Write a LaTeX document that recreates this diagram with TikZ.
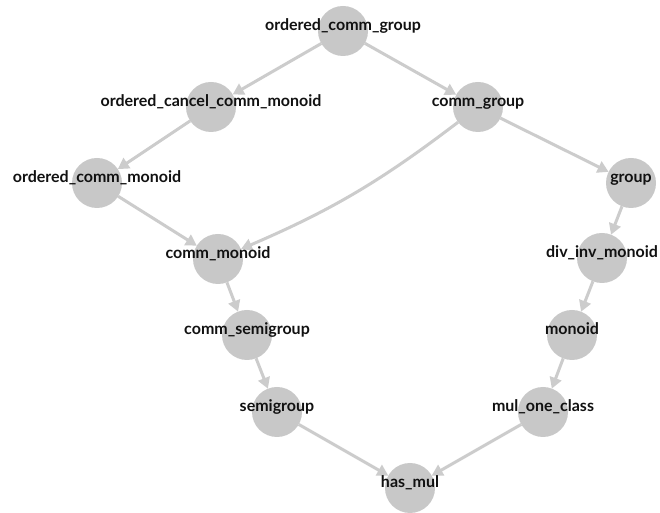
\documentclass[tikz,border=0pt]{standalone}
\usepackage{fontspec}
\setmainfont{Lato}
\usetikzlibrary{arrows.meta}
\definecolor{nodegray}{HTML}{C8C8C8}
\definecolor{edgegray}{HTML}{CCCCCC}
\definecolor{txtcol}{HTML}{111111}
\tikzset{
  vert/.style={circle, fill=nodegray, draw=none, minimum size=50pt, inner sep=0pt, outer sep=0pt},
  lbl/.style={anchor=base, inner sep=0pt, text=txtcol, font=\bfseries\fontsize{16}{18}\selectfont},
  edge/.style={draw=edgegray, line width=3pt, -{Triangle[length=11pt,width=12pt]}},
}
\begin{document}
\begin{tikzpicture}[x=1pt,y=1pt]
\useasboundingbox[fill=white] (0,0) rectangle (660,513);
% circles (y = 513 - y_px)
\node[vert] (ocg)  at (343,482) {};
\node[vert] (occm) at (211,406) {};
\node[vert] (cg)   at (478,406) {};
\node[vert] (ocm)  at (97,330) {};
\node[vert] (grp)  at (631,330) {};
\node[vert] (cm)   at (218,254) {};
\node[vert] (dim)  at (602,255) {};
\node[vert] (csg)  at (247,178) {};
\node[vert] (mon)  at (572,178) {};
\node[vert] (sg)   at (277,101) {};
\node[vert] (moc)  at (543,101) {};
\node[vert] (hm)   at (410,25) {};
% edges
\draw[edge] (ocg) -- (occm);
\draw[edge] (ocg) -- (cg);
\draw[edge] (occm) -- (ocm);
\draw[edge] (ocm) -- (cm);
\draw[edge] (cg) to[bend left=7] (cm);
\draw[edge] (cg) -- (grp);
\draw[edge] (grp) -- (dim);
\draw[edge] (dim) -- (mon);
\draw[edge] (mon) -- (moc);
\draw[edge] (cm) -- (csg);
\draw[edge] (csg) -- (sg);
\draw[edge] (sg) -- (hm);
\draw[edge] (moc) -- (hm);
% labels
\node[lbl] (ocg-l)  at (ocg.center)  {ordered\_comm\_group};
\node[lbl] (occm-l) at (occm.center) {ordered\_cancel\_comm\_monoid};
\node[lbl] (cg-l)   at (cg.center)   {comm\_group};
\node[lbl] (ocm-l)  at (ocm.center)  {ordered\_comm\_monoid};
\node[lbl] (grp-l)  at (grp.center)  {group};
\node[lbl] (cm-l)   at (cm.center)   {comm\_monoid};
\node[lbl] (dim-l)  at (dim.center)  {div\_inv\_monoid};
\node[lbl] (csg-l)  at (csg.center)  {comm\_semigroup};
\node[lbl] (mon-l)  at (mon.center)  {monoid};
\node[lbl] (sg-l)   at (sg.center)   {semigroup};
\node[lbl] (moc-l)  at (moc.center)  {mul\_one\_class};
\node[lbl] (hm-l)   at (hm.center)   {has\_mul};
\end{tikzpicture}
\end{document}
